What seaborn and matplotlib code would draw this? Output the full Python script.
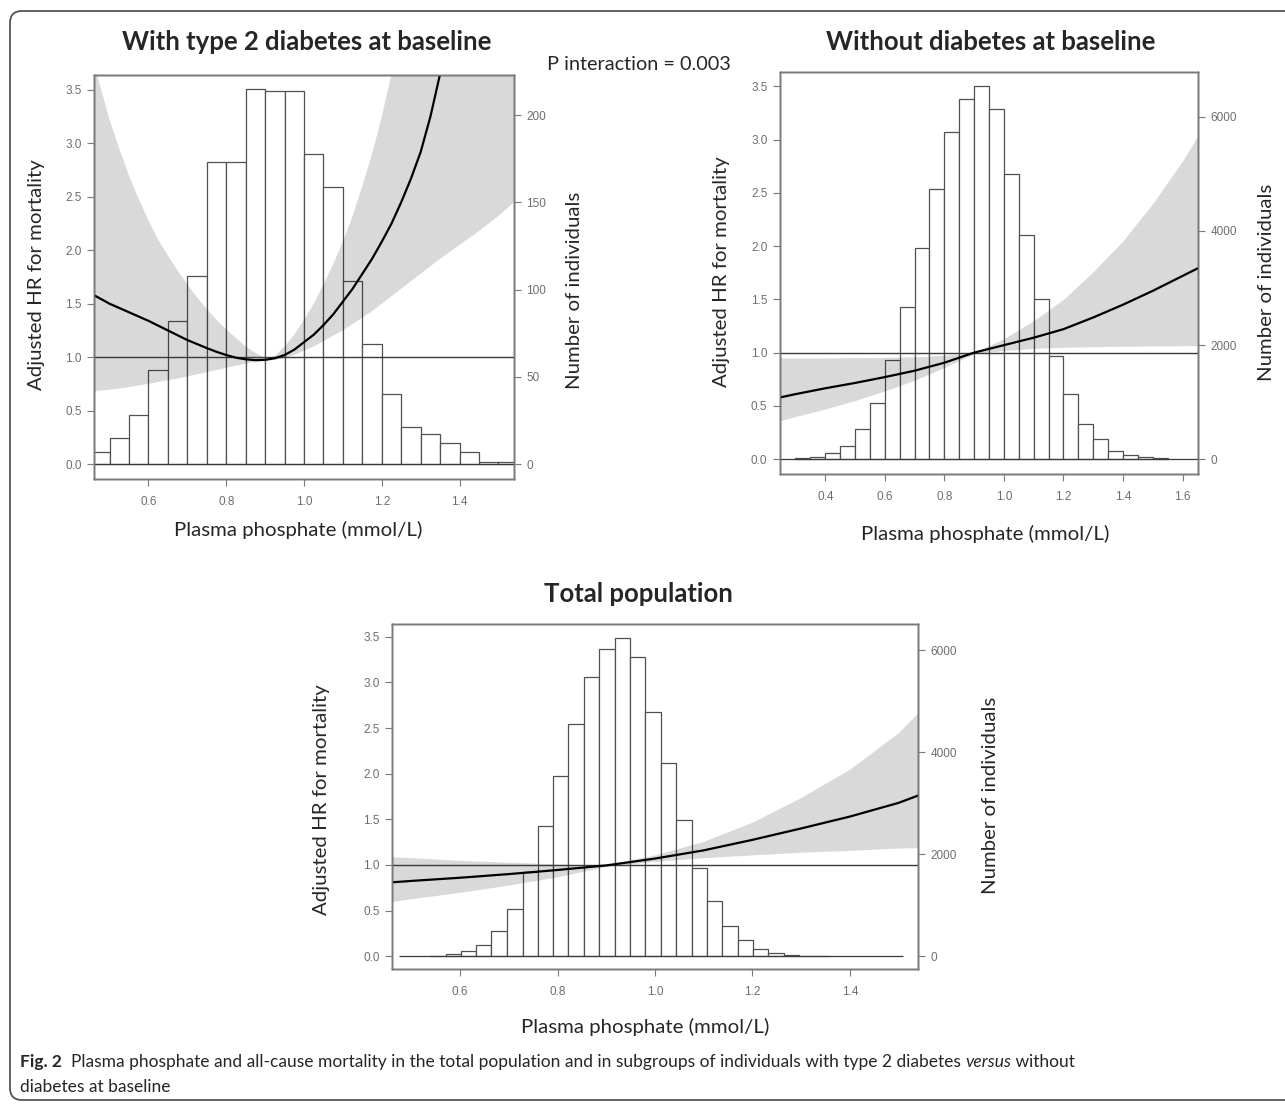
import numpy as np
import matplotlib
matplotlib.use("Agg")
import matplotlib.pyplot as plt
from matplotlib.patches import FancyBboxPatch
from matplotlib.transforms import IdentityTransform
import seaborn as sns

sns.set_theme(style="white")
plt.rcParams['font.family'] = ['Liberation Sans', 'DejaVu Sans']

# ---------------- data ----------------
# Panel A: with type 2 diabetes
a_edges = [0.45, 0.50, 0.55, 0.60, 0.65, 0.70, 0.75, 0.80, 0.85, 0.90, 0.95, 1.00,
           1.05, 1.10, 1.15, 1.20, 1.25, 1.30, 1.35, 1.40, 1.45, 1.50, 1.55]
a_counts = [7, 15, 28, 54, 82, 108, 173, 173, 215, 214, 214, 178, 159, 105, 69, 40,
            21, 17, 12, 7, 1, 1]
a_curve_x = [0.46, 0.50, 0.55, 0.60, 0.65, 0.70, 0.75, 0.775, 0.80, 0.825, 0.85, 0.875,
             0.90, 0.925, 0.95, 0.975, 1.00, 1.025, 1.05, 1.075, 1.10, 1.125, 1.15,
             1.175, 1.20, 1.225, 1.25, 1.275, 1.30, 1.325, 1.35, 1.375]
a_curve_hr = [1.58, 1.50, 1.42, 1.34, 1.25, 1.16, 1.085, 1.05, 1.02, 0.995, 0.98, 0.972,
              0.975, 0.99, 1.02, 1.07, 1.14, 1.21, 1.30, 1.40, 1.52, 1.64, 1.78,
              1.92, 2.08, 2.25, 2.45, 2.67, 2.92, 3.25, 3.65, 4.10]
a_band_x = [0.46, 0.475, 0.50, 0.525, 0.55, 0.575, 0.60, 0.625, 0.65, 0.675, 0.70, 0.725,
            0.75, 0.775, 0.80, 0.825, 0.85, 0.875, 0.90, 0.925, 0.95, 0.975, 1.00, 1.025,
            1.05, 1.075, 1.10, 1.125, 1.15, 1.175, 1.20, 1.225, 1.25, 1.30, 1.35, 1.40,
            1.45, 1.50, 1.54]
a_band_lo = [0.68, 0.687, 0.695, 0.707, 0.72, 0.735, 0.75, 0.767, 0.785, 0.80, 0.82, 0.84,
             0.86, 0.88, 0.90, 0.92, 0.94, 0.955, 0.965, 0.975, 0.99, 1.02, 1.06, 1.10,
             1.15, 1.20, 1.25, 1.31, 1.37, 1.43, 1.50, 1.57, 1.64, 1.78, 1.92, 2.05,
             2.18, 2.32, 2.45]
a_band_hi = [3.75, 3.55, 3.22, 2.95, 2.70, 2.48, 2.28, 2.10, 1.95, 1.81, 1.68, 1.56,
             1.45, 1.35, 1.26, 1.18, 1.10, 1.04, 0.99, 1.01, 1.10, 1.21, 1.35, 1.50,
             1.68, 1.87, 2.08, 2.32, 2.60, 2.90, 3.25, 3.65, 4.10, 5.2, 6.5, 8.0,
             9.5, 11.0, 12.0]
a_cnt_ticks = [0, 50, 100, 150, 200]

# Panel B: without diabetes
b_edges = [0.30, 0.35, 0.40, 0.45, 0.50, 0.55, 0.60, 0.65, 0.70, 0.75, 0.80, 0.85, 0.90,
           0.95, 1.00, 1.05, 1.10, 1.15, 1.20, 1.25, 1.30, 1.35, 1.40, 1.45, 1.50, 1.55]
b_counts = [11, 41, 99, 230, 528, 980, 1744, 2670, 3696, 4742, 5731, 6310, 6534, 6142,
            5003, 3920, 2800, 1809, 1144, 616, 347, 149, 69, 34, 19]
b_curve_x = [0.25, 0.30, 0.40, 0.50, 0.60, 0.70, 0.80, 0.90, 1.00, 1.10, 1.20, 1.30,
             1.40, 1.50, 1.60, 1.65]
b_curve_hr = [0.58, 0.61, 0.665, 0.715, 0.77, 0.83, 0.905, 1.00, 1.07, 1.14, 1.22, 1.33,
              1.45, 1.58, 1.72, 1.79]
b_band_x = b_curve_x
b_band_lo = [0.36, 0.40, 0.47, 0.55, 0.64, 0.74, 0.86, 0.99, 1.02, 1.04, 1.05, 1.055,
             1.06, 1.062, 1.065, 1.065]
b_band_hi = [0.95, 0.95, 0.95, 0.952, 0.955, 0.96, 0.975, 1.00, 1.13, 1.30, 1.50, 1.76,
             2.05, 2.40, 2.80, 3.03]
b_cnt_ticks = [0, 2000, 4000, 6000]

# Panel C: total population
c_edges = [0.538, 0.570, 0.601, 0.633, 0.664, 0.696, 0.728, 0.759, 0.791, 0.822, 0.854,
           0.886, 0.917, 0.949, 0.980, 1.012, 1.044, 1.075, 1.107, 1.138, 1.170, 1.202,
           1.233, 1.265, 1.296, 1.328, 1.359]
c_counts = [12, 52, 111, 223, 503, 928, 1659, 2551, 3532, 4549, 5477, 6030, 6244, 5869,
            4799, 3782, 2676, 1739, 1088, 601, 326, 143, 71, 32, 12, 12]
c_curve_x = [0.46, 0.50, 0.60, 0.70, 0.80, 0.90, 1.00, 1.10, 1.20, 1.30, 1.40, 1.50, 1.54]
c_curve_hr = [0.81, 0.825, 0.86, 0.90, 0.945, 0.995, 1.07, 1.16, 1.275, 1.40, 1.53,
              1.68, 1.76]
c_band_x = c_curve_x
c_band_lo = [0.60, 0.63, 0.70, 0.78, 0.87, 0.985, 1.04, 1.08, 1.11, 1.14, 1.16, 1.185, 1.19]
c_band_hi = [1.09, 1.08, 1.05, 1.03, 1.01, 1.00, 1.11, 1.26, 1.47, 1.74, 2.05, 2.45, 2.67]
c_cnt_ticks = [0, 2000, 4000, 6000]

hr_ticks = [0.0, 0.5, 1.0, 1.5, 2.0, 2.5, 3.0, 3.5]

# ---------------- figure ----------------
W, H = 1285, 1107
fig = plt.figure(figsize=(W / 100, H / 100), dpi=100)
fig.patch.set_facecolor('white')

TXT = ['Lato', 'DejaVu Sans']
GRAY = '#6e6e6e'
BOX = '#7a7a7a'


def rect(l, t, r, b):
    return [l / W, 1 - b / H, (r - l) / W, (b - t) / H]


def panel(box, xlim, xticks, edges, counts, cnt_ticks, cnt_per_hr,
          cx, chr_, bx, blo, bhi, base_span=None):
    ylim = (-0.14, 3.64)
    ax = fig.add_axes(box)          # HR axis (left ticks), CI band
    ax2 = ax.twinx()                # counts axis (right ticks), histogram
    ax3 = ax.twinx()                # HR curve and reference lines
    ax2.set_zorder(1)
    ax.set_zorder(2)
    ax3.set_zorder(3)
    for a in (ax, ax2, ax3):
        a.patch.set_visible(False)

    # histogram (counts, right axis)
    centers = [(edges[i] + edges[i + 1]) / 2 for i in range(len(counts))]
    sns.histplot(x=centers, weights=counts, bins=edges, ax=ax2, stat='count',
                 color='white', edgecolor='#505050', linewidth=0.9, alpha=1)

    # confidence band drawn over the bars (translucent)
    ax.fill_between(bx, blo, bhi, color='black', alpha=0.15, lw=0)

    # reference lines and HR curve
    ax3.axhline(1.0, color='#3a3a3a', lw=1.0)
    if base_span is None:
        ax3.axhline(0.0, color='#3a3a3a', lw=0.9)
    else:
        ax3.hlines(0.0, base_span[0], base_span[1], color='#3a3a3a', lw=0.9)
    sns.lineplot(x=cx, y=chr_, ax=ax3, color='black', lw=1.6)

    ax.set_xlim(xlim)
    ax.set_ylim(ylim)
    ax3.set_ylim(ylim)
    ax2.set_ylim(ylim[0] * cnt_per_hr, ylim[1] * cnt_per_hr)

    for a in (ax, ax2, ax3):
        a.set_xlabel('')
        a.set_ylabel('')
        for s in a.spines.values():
            s.set_color(BOX)
            s.set_linewidth(1.0)

    ax.set_yticks(hr_ticks)
    ax.set_yticklabels([f'{v:.1f}' for v in hr_ticks])
    ax.set_xticks(xticks)
    ax.set_xticklabels([f'{v:.1f}' for v in xticks])
    ax.tick_params(axis='y', left=True, right=False, length=5, width=0.8,
                   color=BOX, labelcolor=GRAY, labelsize=8.5, pad=4)
    ax.tick_params(axis='x', bottom=True, top=False, length=5, width=0.8,
                   color=BOX, labelcolor=GRAY, labelsize=8.5, pad=7)

    ax2.set_yticks(cnt_ticks)
    ax2.set_yticklabels([str(v) for v in cnt_ticks])
    ax2.tick_params(axis='y', right=True, left=False, labelright=True, labelleft=False,
                    length=5, width=0.8, color=BOX, labelcolor=GRAY, labelsize=8.5, pad=4)

    ax3.tick_params(axis='y', right=False, left=False, labelright=False, labelleft=False)
    ax3.tick_params(axis='x', bottom=False, labelbottom=False)
    ax2.tick_params(axis='x', bottom=False, labelbottom=False)
    return ax


# Panel A
panel(rect(94, 75, 514, 479), (0.46, 1.54), [0.6, 0.8, 1.0, 1.2, 1.4],
      a_edges, a_counts, a_cnt_ticks, 61.27,
      a_curve_x, a_curve_hr, a_band_x, a_band_lo, a_band_hi)
# Panel B
panel(rect(780, 71.5, 1198, 474), (0.248, 1.652), [0.4, 0.6, 0.8, 1.0, 1.2, 1.4, 1.6],
      b_edges, b_counts, b_cnt_ticks, 1866.8,
      b_curve_x, b_curve_hr, b_band_x, b_band_lo, b_band_hi)
# Panel C
panel(rect(392, 624, 918, 969), (0.46, 1.54), [0.6, 0.8, 1.0, 1.2, 1.4],
      c_edges, c_counts, c_cnt_ticks, 1790.0,
      c_curve_x, c_curve_hr, c_band_x, c_band_lo, c_band_hi, base_span=(0.475, 1.51))


def ftext(x, y, s, **kw):
    return fig.text(x / W, 1 - y / H, s, **kw)


# titles
ftext(307, 42, 'With type 2 diabetes at baseline', ha='center', va='center',
      fontsize=18.5, fontweight='bold', family=TXT)
ftext(991, 42, 'Without diabetes at baseline', ha='center', va='center',
      fontsize=18.5, fontweight='bold', family=TXT)
ftext(638, 594, 'Total population', ha='center', va='center',
      fontsize=18.5, fontweight='bold', family=TXT)
ftext(547, 65, 'P interaction = 0.003', ha='left', va='center', fontsize=14.3, family=TXT)

# axis labels
lab_kw = dict(fontsize=14.7, family=TXT, va='center', ha='center')
ftext(37, 275, 'Adjusted HR for mortality', rotation=90, **lab_kw)
ftext(575, 290, 'Number of individuals', rotation=90, **lab_kw)
ftext(721, 272, 'Adjusted HR for mortality', rotation=90, **lab_kw)
ftext(1266, 282, 'Number of individuals', rotation=90, **lab_kw)
ftext(321, 800, 'Adjusted HR for mortality', rotation=90, **lab_kw)
ftext(991, 795, 'Number of individuals', rotation=90, **lab_kw)
ftext(298, 530, 'Plasma phosphate (mmol/L)', **lab_kw)
ftext(985, 534, 'Plasma phosphate (mmol/L)', **lab_kw)
ftext(645, 1027, 'Plasma phosphate (mmol/L)', **lab_kw)

# caption
renderer = fig.canvas.get_renderer()
cap_size = 12.5
t1 = ftext(20, 1062, 'Fig. 2', ha='left', va='center', fontsize=cap_size,
           fontweight='bold', family=TXT)
x_cur = t1.get_window_extent(renderer).x1 + 9
t2 = fig.text(x_cur / W, 1 - 1062 / H,
              'Plasma phosphate and all-cause mortality in the total population and in '
              'subgroups of individuals with type 2 diabetes ',
              ha='left', va='center', fontsize=cap_size, family=TXT)
x_cur = t2.get_window_extent(renderer).x1
t3 = fig.text(x_cur / W, 1 - 1062 / H, 'versus', ha='left', va='center',
              fontsize=cap_size, style='italic', family=TXT)
x_cur = t3.get_window_extent(renderer).x1
fig.text(x_cur / W, 1 - 1062 / H, ' without', ha='left', va='center',
         fontsize=cap_size, family=TXT)
ftext(20, 1087, 'diabetes at baseline', ha='left', va='center', fontsize=cap_size,
      family=TXT)

# rounded frame
frame = FancyBboxPatch((10, 7), 1300, 1089, boxstyle='round,pad=0,rounding_size=12',
                       transform=IdentityTransform(), fill=False, ec='#555555', lw=1.3)
fig.add_artist(frame)

fig.savefig('out.png', dpi=100, facecolor='white')
